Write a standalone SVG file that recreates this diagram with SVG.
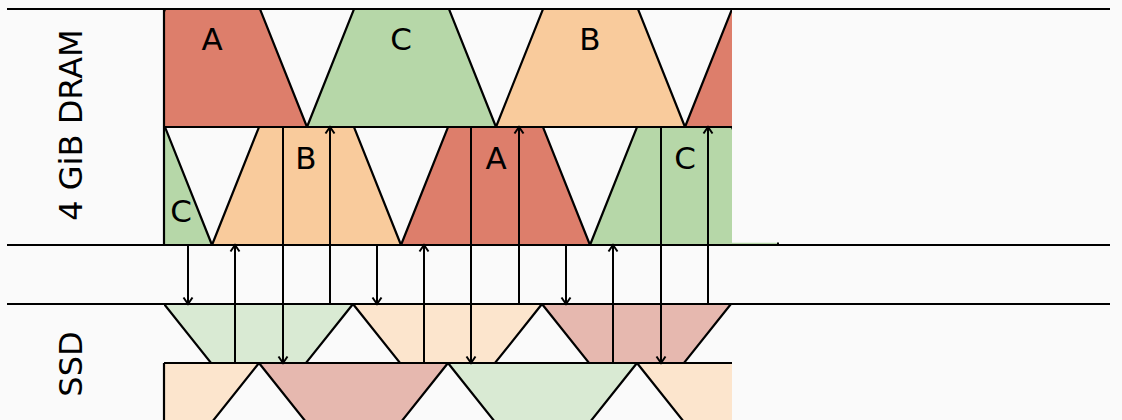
<svg xmlns="http://www.w3.org/2000/svg" width="1122" height="420" viewBox="0 0 1122 420">
<style>
.lbl{font-family:"DejaVu Sans","Liberation Sans",sans-serif;font-size:31px;fill:#000;text-anchor:middle}
.edge{stroke:#000;stroke-width:2.2;stroke-linejoin:miter}
.rule{stroke:#000;stroke-width:2.2;fill:none}
.arr{stroke:#000;stroke-width:2;fill:none;marker-end:url(#ah)}
.red{fill:#dd7e6b}.grn{fill:#b6d7a8}.org{fill:#f9cb9c}
.lred{fill:#e6b8af}.lgrn{fill:#d9ead3}.lorg{fill:#fce5cd}
</style>
<defs>
<clipPath id="cl"><rect x="164" y="0" width="568" height="420"/></clipPath>
<marker id="ah" markerUnits="userSpaceOnUse" markerWidth="10" markerHeight="12" viewBox="0 0 10 12" refX="8" refY="6" orient="auto">
<path d="M1.5,1.5 L8,6 L1.5,10.5" fill="none" stroke="#000" stroke-width="2"/>
</marker>
</defs>
<rect width="1122" height="420" fill="#fafafa"/>
<g id="dram-row1" clip-path="url(#cl)">
<polygon class="red edge" points="118,127 165,9 260,9 307,127"/>
<polygon class="grn edge" points="307,127 354,9 449,9 496,127"/>
<polygon class="org edge" points="496,127 543,9 638,9 685,127"/>
<polygon class="red edge" points="685,127 732,9 827,9 874,127"/>
</g>
<g id="dram-row2" clip-path="url(#cl)">
<polygon class="grn edge" points="23,245 70,127 165,127 212,245"/>
<polygon class="org edge" points="212,245 259,127 354,127 401,245"/>
<polygon class="red edge" points="401,245 448,127 543,127 590,245"/>
<polygon class="grn edge" points="590,245 637,127 732,127 779,245"/>
</g>
<g id="ssd-row1" clip-path="url(#cl)">
<polygon class="lorg edge" points="-25,304 164,304 117,363 22,363"/>
<polygon class="lgrn edge" points="164,304 353,304 306,363 211,363"/>
<polygon class="lorg edge" points="353,304 542,304 495,363 400,363"/>
<polygon class="lred edge" points="542,304 731,304 684,363 589,363"/>
</g>
<g id="ssd-row2" clip-path="url(#cl)">
<polygon class="lorg edge" points="70,363 259,363 212,422 117,422"/>
<polygon class="lred edge" points="259,363 448,363 401,422 306,422"/>
<polygon class="lgrn edge" points="448,363 637,363 590,422 495,422"/>
<polygon class="lorg edge" points="637,363 826,363 779,422 684,422"/>
</g>
<g id="frame">
<line class="rule" x1="7" y1="9" x2="1110" y2="9"/>
<line class="rule" x1="164" y1="127" x2="732" y2="127"/>
<line class="rule" x1="7" y1="245" x2="1110" y2="245"/>
<line class="rule" x1="7" y1="304" x2="1110" y2="304"/>
<line class="rule" x1="164" y1="363" x2="732" y2="363"/>
<line class="rule" x1="164" y1="9" x2="164" y2="245"/>
<line class="rule" x1="164" y1="363" x2="164" y2="420"/>
<line x1="732" y1="243.3" x2="778" y2="243.3" stroke="#b6d7a8" stroke-width="1.2"/>
<rect x="777" y="242.5" width="2" height="2" fill="#000"/>
</g>
<g id="labels">
<text class="lbl" x="212" y="50">A</text>
<text class="lbl" x="401" y="50">C</text>
<text class="lbl" x="590" y="50">B</text>
<text class="lbl" x="306" y="169">B</text>
<text class="lbl" x="496" y="169">A</text>
<text class="lbl" x="685" y="169">C</text>
<text class="lbl" x="181" y="222">C</text>
<text class="lbl" transform="translate(82,125) rotate(-90)" style="font-size:32px">4 GiB DRAM</text>
<text class="lbl" transform="translate(82,364) rotate(-90)" style="font-size:32px">SSD</text>
</g>
<g id="connectors">
<line class="arr" x1="188" y1="245" x2="188" y2="304"/>
<line class="arr" x1="235" y1="363" x2="235" y2="245"/>
<line class="arr" x1="283" y1="127" x2="283" y2="363"/>
<line class="arr" x1="330" y1="304" x2="330" y2="127"/>
<line class="arr" x1="377" y1="245" x2="377" y2="304"/>
<line class="arr" x1="424" y1="363" x2="424" y2="245"/>
<line class="arr" x1="471" y1="127" x2="471" y2="363"/>
<line class="arr" x1="519" y1="304" x2="519" y2="127"/>
<line class="arr" x1="566" y1="245" x2="566" y2="304"/>
<line class="arr" x1="613" y1="363" x2="613" y2="245"/>
<line class="arr" x1="661" y1="127" x2="661" y2="363"/>
<line class="arr" x1="708" y1="304" x2="708" y2="127"/>
</g>
</svg>
